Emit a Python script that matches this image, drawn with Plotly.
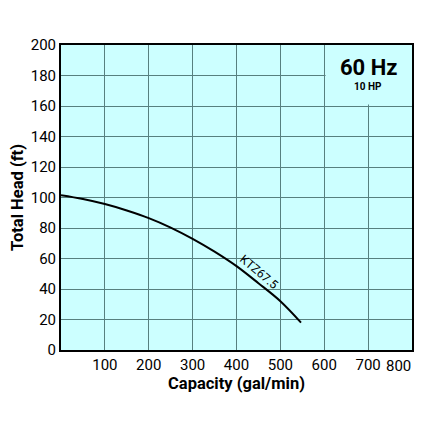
import plotly.graph_objects as go

# Pump curve
capacity = [0, 50, 100, 150, 200, 250, 300, 350, 400, 450, 500, 547]
head = [101.5, 99.0, 95.7, 91.5, 86.5, 80.3, 72.9, 64.5, 55.0, 43.8, 32.0, 18.0]

x_ticks = [100, 200, 300, 400, 500, 600, 700, 800]
x_tick_text = ["100", "200", "300", "400", "500", "600", "700", "800"]
y_ticks = [0, 20, 40, 60, 80, 100, 120, 140, 160, 180, 200]

curve_label = "KTZ67.5"
freq_label = "60 Hz"
power_label = "10 HP"

FONT = "Roboto"
BG = "#ccffff"
GRID = "#57807f"

fig = go.Figure()

fig.add_trace(go.Scatter(
    x=capacity, y=head, mode="lines",
    line=dict(color="black", width=2, shape="spline"),
    hoverinfo="skip", showlegend=False,
))

# Cyan patch behind the frequency label (hides grid there)
fig.add_shape(type="rect", xref="x", yref="y", x0=603, x1=800, y0=161, y1=200,
              fillcolor=BG, line=dict(width=0), layer="above")

fig.add_annotation(x=451, y=51, text=curve_label, showarrow=False, textangle=40,
                   font=dict(family=FONT, size=12, color="black"))
fig.add_annotation(x=700, y=185, text=f"<b>{freq_label}</b>", showarrow=False,
                   font=dict(family=FONT, size=22, color="black"))
fig.add_annotation(x=700, y=173, text=f"<b>{power_label}</b>", showarrow=False,
                   font=dict(family=FONT, size=10, color="black"))

# last x label sits inside the frame in the reference, so draw it right-aligned
fig.add_annotation(x=x_ticks[-1], y=0, xref="x", yref="paper", text=x_tick_text[-1],
                   showarrow=False, xanchor="right", yanchor="top", yshift=-5, xshift=1,
                   font=dict(family=FONT, size=15, color="black"))
x_labels = x_tick_text[:-1] + [""]

fig.update_layout(
    width=423, height=423,
    margin=dict(l=53, r=19, t=37, b=81),
    paper_bgcolor="white", plot_bgcolor=BG,
    font=dict(family=FONT, size=15, color="black"),
    xaxis=dict(
        range=[0, 800], tickvals=x_ticks, ticktext=x_labels,
        showgrid=True, gridcolor=GRID, gridwidth=1,
        showline=True, linecolor="black", linewidth=2, mirror=True, zeroline=False,
        ticks="", tickfont=dict(size=15), automargin=False,
        title=dict(text="<b>Capacity (gal/min)</b>", font=dict(size=16.5), standoff=4),
    ),
    yaxis=dict(
        range=[0, 200], tickvals=y_ticks, showgrid=True, gridcolor=GRID, gridwidth=1,
        showline=True, linecolor="black", linewidth=2, mirror=True, zeroline=False,
        ticks="", tickfont=dict(size=15), automargin=False,
        title=dict(text="<b>Total Head (ft)</b>", font=dict(size=16.5), standoff=7),
    ),
)

fig.write_html("out.html")
